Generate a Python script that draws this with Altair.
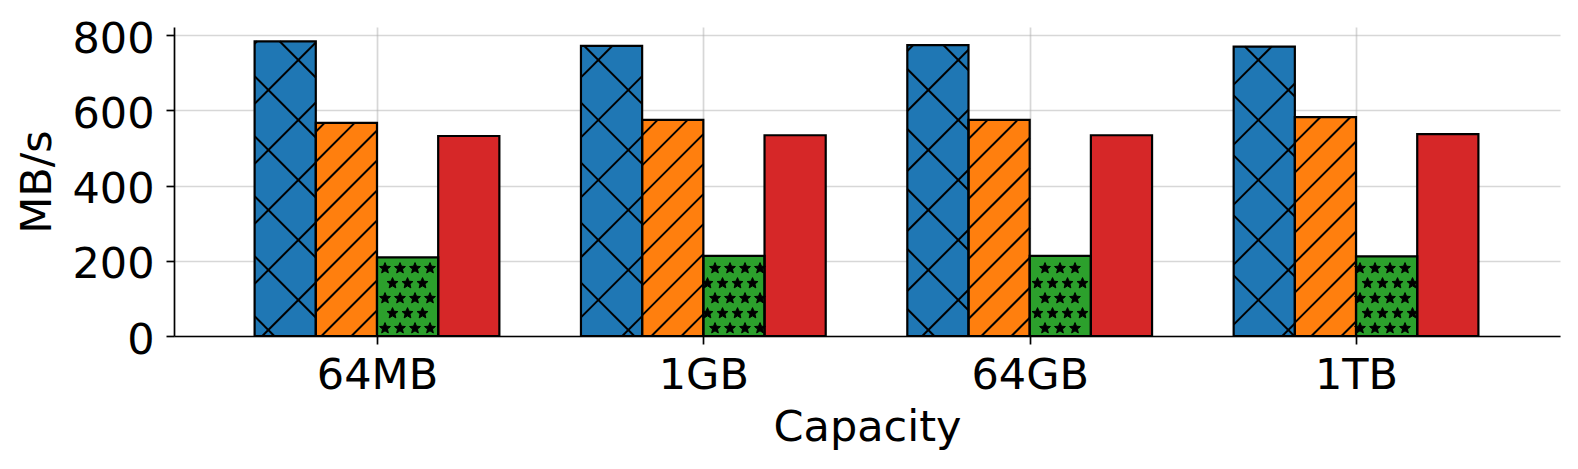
import math
import altair as alt
import pandas as pd

# ---------------- data ----------------
categories = ["64MB", "1GB", "64GB", "1TB"]
series = ["S1", "S2", "S3", "S4"]
s1_values = [784, 772, 774, 770]   # blue, "x" hatch
s2_values = [567, 575, 575, 582]   # orange, "/" hatch
s3_values = [209, 213, 213, 212]   # green, star hatch
s4_values = [532, 534, 534, 537]   # red, plain
y_ticks = [0, 200, 400, 600, 800]

colors = ["#1f77b4", "#ff7f0e", "#2ca02c", "#d62728"]

# ---------------- layout ----------------
W, H = 1386, 309
X_DOM = [-0.622, 3.625]
Y_DOM = [0, 822]
BAR_W = 0.1875
OFFSETS = [-1.5, -0.5, 0.5, 1.5]
PAGE_X0, PAGE_Y0 = 174, 27
FONT = "DejaVu Sans"
FS = 43

kx = W / (X_DOM[1] - X_DOM[0])
ky = H / (Y_DOM[1] - Y_DOM[0])


def px(xd):
    return PAGE_X0 + (xd - X_DOM[0]) * kx


def py(yd):
    return PAGE_Y0 + H - (yd - Y_DOM[0]) * ky


def dx(p):
    return X_DOM[0] + (p - PAGE_X0) / kx


def dy(p):
    return Y_DOM[0] + (PAGE_Y0 + H - p) / ky


rows = []
for si, (name, vals) in enumerate(zip(series, [s1_values, s2_values, s3_values, s4_values])):
    for gi, (cat, v) in enumerate(zip(categories, vals)):
        c = gi + OFFSETS[si] * BAR_W
        rows.append(dict(series=name, category=cat, x0=c - BAR_W / 2, x1=c + BAR_W / 2, y0=0, y1=v))
bars = pd.DataFrame(rows)


def hatch_lines(rect, direction, spacing, phase):
    l, r, t, b = rect
    segs = []
    if direction == "/":  # x + y = c
        cmin, cmax = l + t, r + b
        c = phase + spacing * math.ceil((cmin - phase) / spacing)
        while c <= cmax:
            xa, xb = max(l, c - b), min(r, c - t)
            if xb - xa > 0.5:
                segs.append((xa, c - xa, xb, c - xb))
            c += spacing
    else:  # x - y = c
        cmin, cmax = l - b, r - t
        c = phase + spacing * math.ceil((cmin - phase) / spacing)
        while c <= cmax:
            xa, xb = max(l, c + t), min(r, c + b)
            if xb - xa > 0.5:
                segs.append((xa, xa - c, xb, xb - c))
            c += spacing
    return segs


hatch_rows = []
star_rows = []
for _, row in bars.iterrows():
    rect = (px(row.x0), px(row.x1), py(row.y1), py(row.y0))
    segs = []
    if row.series == "S1":
        segs += hatch_lines(rect, "/", 60, 58.3)
        segs += hatch_lines(rect, "\\", 60, 58.3)
    elif row.series == "S2":
        segs += hatch_lines(rect, "/", 30, 27.5)
    elif row.series == "S3":
        l, r, t, b = rect
        m = 3.5
        step = 15.0
        k = math.ceil((t + m - 28.3) / step)
        while 28.3 + k * step <= b - m:
            yy = 28.3 + k * step
            xph = 10.0 if k % 2 == 0 else 2.5
            j = math.ceil((l + m - xph) / step)
            while xph + j * step <= r - m:
                xx = xph + j * step
                star_rows.append(dict(x0=dx(xx), y0=dy(yy)))
                j += 1
            k += 1
    for (xa, ya, xb, yb) in segs:
        hatch_rows.append(dict(x0=dx(xa), y0=dy(ya), x1=dx(xb), y1=dy(yb)))

hatch_df = pd.DataFrame(hatch_rows)
star_df = pd.DataFrame(star_rows)

# star symbol path in the unit box
pts = []
for k in range(10):
    ang = -math.pi / 2 + k * math.pi / 5
    rad = 1.0 if k % 2 == 0 else 0.45
    pts.append((rad * math.cos(ang), rad * math.sin(ang)))
STAR = "M" + " L".join(f"{x:.3f},{y:.3f}" for x, y in pts) + " Z"

label_expr = "[" + ",".join(f"'{c}'" for c in categories) + "][datum.value]"

x_enc = alt.X(
    "x0:Q",
    scale=alt.Scale(domain=X_DOM, nice=False, zero=False),
    axis=alt.Axis(
        values=[0, 1, 2, 3],
        labelExpr=label_expr,
        title="Capacity",
        labelPadding=10,
        titleY=104,
        titleBaseline="alphabetic",
        grid=True,
    ),
)
y_enc = alt.Y(
    "y0:Q",
    scale=alt.Scale(domain=Y_DOM, nice=False),
    axis=alt.Axis(
        values=y_ticks,
        format="d",
        title="MB/s",
        labelPadding=12,
        labelBaseline="middle",
        labelOffset=4,
        titleAngle=-90,
        titleX=-124,
        titleY=H / 2,
        titleAlign="center",
        titleBaseline="alphabetic",
        grid=True,
    ),
)

fill_layer = alt.Chart(bars).mark_rect(strokeWidth=0).encode(
    x=x_enc,
    x2="x1:Q",
    y=y_enc,
    y2="y1:Q",
    color=alt.Color("series:N", scale=alt.Scale(domain=series, range=colors), legend=None),
)

hatch_layer = alt.Chart(hatch_df).mark_rule(color="black", strokeWidth=2).encode(
    x=x_enc, x2="x1:Q", y=y_enc, y2="y1:Q"
)

star_layer = alt.Chart(star_df).mark_point(
    shape=STAR, filled=True, fill="black", stroke="black", size=130, opacity=1, strokeWidth=1
).encode(x=x_enc, y=y_enc)

outline_layer = alt.Chart(bars).mark_rect(stroke="black", strokeWidth=2.2, fillOpacity=0).encode(
    x=x_enc, x2="x1:Q", y=y_enc, y2="y1:Q"
)

chart = (
    alt.layer(fill_layer, hatch_layer, star_layer, outline_layer)
    .properties(
        width=W,
        height=H,
        autosize=alt.AutoSizeParams(type="none"),
        padding={"left": 166, "top": 19, "right": 10, "bottom": 120},
        background="white",
    )
    .configure_view(strokeWidth=0)
    .configure_axis(
        domainColor="black",
        domainWidth=1.7,
        tickColor="black",
        tickWidth=1.7,
        tickSize=8,
        labelFont=FONT,
        labelFontSize=FS,
        labelColor="black",
        titleFont=FONT,
        titleFontSize=FS,
        titleFontWeight="normal",
        titleColor="black",
        gridColor="#b0b0b0",
        gridOpacity=0.5,
        gridWidth=1.7,
        zindex=1,
    )
)

chart.save("out.html", embed_options={"renderer": "svg", "actions": False})
